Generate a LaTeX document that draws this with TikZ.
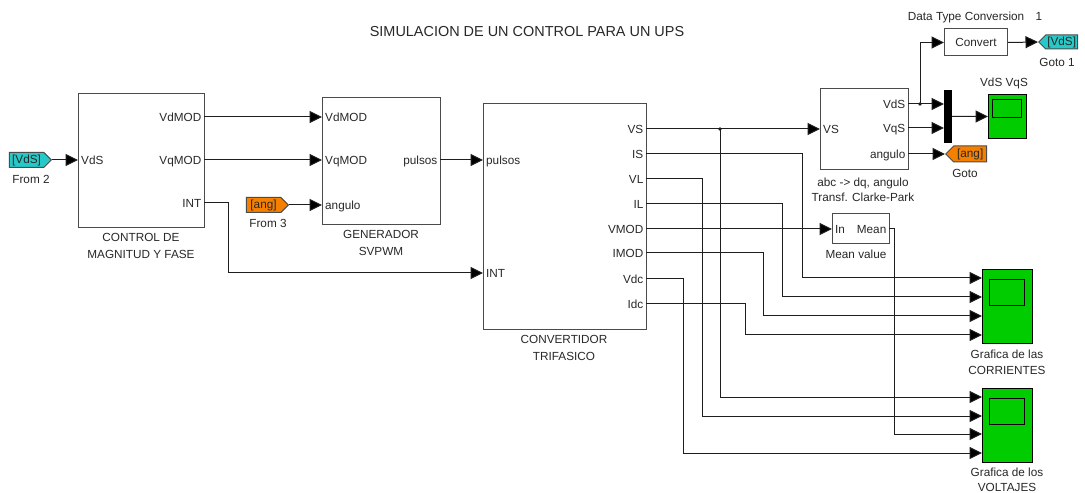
\documentclass[tikz,border=0pt]{standalone}
\usepackage{fontspec}
\setmainfont{Liberation Sans}
\usetikzlibrary{arrows.meta,shapes.symbols}
\definecolor{tagcyan}{RGB}{38,200,200}
\definecolor{tagorange}{RGB}{245,128,0}
\definecolor{scopegreen}{RGB}{0,204,0}
\definecolor{txt}{RGB}{40,40,40}
\definecolor{ln}{RGB}{30,30,30}
\begin{document}
\begin{tikzpicture}[x=1bp,y=-1bp,
  every node/.style={text=txt},
  blk/.style={draw=ln!80, fill=white, line width=1bp, inner sep=0pt, anchor=north west},
  scopebox/.style={draw=black, fill=scopegreen, line width=1bp, inner sep=0pt, anchor=north west},
  sig/.style={draw=ln, line width=1bp, -{Triangle[length=12.5bp,width=12bp,fill=black]}},
  portl/.style={font=\fontsize{11.8}{13}\selectfont, inner sep=0pt, text height=8.4bp, text depth=0pt, anchor=west},
  portr/.style={font=\fontsize{11.8}{13}\selectfont, inner sep=0pt, text height=8.4bp, text depth=0pt, anchor=east},
  lbl/.style={font=\fontsize{11.8}{17}\selectfont, inner sep=0pt, align=center, anchor=north},
  fromtag/.style={shape=signal, signal to=east, signal from=nowhere, signal pointer angle=90, draw=ln!80, line width=1bp, inner sep=0.5bp, font=\fontsize{11.8}{12}\selectfont, minimum height=15bp},
  gototag/.style={shape=signal, signal to=west, signal from=nowhere, signal pointer angle=90, draw=ln!80, line width=1bp, inner sep=0.5bp, font=\fontsize{11.8}{12}\selectfont, minimum height=15bp},
  jdot/.style={fill=ln}
]
\fill[white] (0,0) rectangle (1085,493);
\useasboundingbox (0,0) rectangle (1085,493);

% title
\node[font=\fontsize{14.5}{16}\selectfont, inner sep=0pt] (title) at (527,32) {SIMULACION DE UN CONTROL PARA UN UPS};

% blocks
\node[blk, minimum width=126bp, minimum height=134bp] (ctrl) at (78,93) {};
\node[blk, minimum width=118bp, minimum height=127bp] (gen) at (322,97) {};
\node[blk, minimum width=163bp, minimum height=226bp] (conv) at (483,103) {};
\node[blk, minimum width=88bp, minimum height=81bp] (clarke) at (820,88) {};
\node[blk, minimum width=63bp, minimum height=27bp, font=\fontsize{11.8}{13}\selectfont] (convert) at (944,28.5) {Convert};
\node[blk, fill=black, draw=black, minimum width=7bp, minimum height=52bp] (mux) at (944,90) {};
\node[blk, minimum width=57bp, minimum height=30bp] (mean) at (832,213) {};

% scopes
\node[scopebox, minimum width=38bp, minimum height=44bp] (scope1) at (988,94) {};
\node[scopebox, minimum width=29bp, minimum height=18bp] (scope1-screen) at (992,99) {};
\node[scopebox, minimum width=50bp, minimum height=74bp] (scC) at (982,269) {};
\node[scopebox, minimum width=35bp, minimum height=26bp] (scC-screen) at (989,279) {};
\node[scopebox, minimum width=50bp, minimum height=74bp] (scV) at (982,388) {};
\node[scopebox, minimum width=35bp, minimum height=26bp] (scV-screen) at (989,398) {};

% tags
\node[fromtag, fill=tagcyan, minimum width=42bp, anchor=east] (from2) at (52,160) {[VdS]};
\node[fromtag, fill=tagorange, minimum width=42bp, anchor=east] (from3) at (289,205) {[ang]};
\node[gototag, fill=tagcyan, minimum width=39bp, minimum height=14bp, anchor=west] (goto1) at (1038,42) {[VdS]};
\node[gototag, fill=tagorange, minimum width=41bp, minimum height=16bp, anchor=west] (gotoang) at (945,154) {[ang]};

% port coordinates
\coordinate (ctrl-vds) at (78,160);
\coordinate (ctrl-vdmod) at (204,117);
\coordinate (ctrl-vqmod) at (204,160);
\coordinate (ctrl-int) at (204,203);
\coordinate (gen-vdmod) at (322,117);
\coordinate (gen-vqmod) at (322,160);
\coordinate (gen-ang) at (322,205);
\coordinate (gen-pul) at (440,160);
\coordinate (conv-pul) at (483,160);
\coordinate (conv-int) at (483,273);
\coordinate (conv-vs) at (646,129);
\coordinate (conv-is) at (646,154);
\coordinate (conv-vl) at (646,179);
\coordinate (conv-il) at (646,204);
\coordinate (conv-vmod) at (646,229);
\coordinate (conv-imod) at (646,253);
\coordinate (conv-vdc) at (646,279);
\coordinate (conv-idc) at (646,304);
\coordinate (clarke-vs) at (820,129);
\coordinate (clarke-vds) at (908,104);
\coordinate (clarke-vqs) at (908,128);
\coordinate (clarke-ang) at (908,154);
\coordinate (mux-1) at (944,104);
\coordinate (mux-2) at (944,128);
\coordinate (mean-in) at (832,229);
\coordinate (mean-out) at (889,229);
\coordinate (scC-1) at (982,278);
\coordinate (scC-2) at (982,297);
\coordinate (scC-3) at (982,316);
\coordinate (scC-4) at (982,335);
\coordinate (scV-1) at (982,397);
\coordinate (scV-2) at (982,416);
\coordinate (scV-3) at (982,434);
\coordinate (scV-4) at (982,453);
\coordinate (jvs) at (720,129);
\coordinate (jvd) at (920,104);

% port labels
\foreach \n/\p/\t in {a/ctrl-vds/VdS, b/gen-vdmod/VdMOD, c/gen-vqmod/VqMOD, d/gen-ang/angulo, e/conv-pul/pulsos, f/conv-int/INT, g/clarke-vs/VS, h/mean-in/In}
  \node[portl, xshift=3bp] (pl-\n) at (\p) {\t};
\foreach \n/\p/\t in {a/ctrl-vdmod/VdMOD, b/ctrl-vqmod/VqMOD, c/ctrl-int/INT, d/gen-pul/pulsos, e/conv-vs/VS, f/conv-is/IS, g/conv-vl/VL, h/conv-il/IL, i/conv-vmod/VMOD, j/conv-imod/IMOD, k/conv-vdc/Vdc, l/conv-idc/Idc, m/clarke-vds/VdS, n/clarke-vqs/VqS, o/clarke-ang/angulo, p/mean-out/Mean}
  \node[portr, xshift=-2.5bp] (pr-\n) at (\p) {\t};

% block labels
\node[lbl] (l-ctrl) at (141,233) {CONTROL DE\\MAGNITUD Y FASE};
\node[lbl] (l-gen) at (381,230) {GENERADOR\\SVPWM};
\node[lbl] (l-conv) at (564,335) {CONVERTIDOR\\TRIFASICO};
\node[lbl, font=\fontsize{11.8}{14.5}\selectfont] (l-clarke) at (863,178) {abc -> dq, angulo\\Transf. Clarke-Park};
\node[lbl, anchor=center] (l-convert) at (975,17) {Data Type Conversion\hspace{8bp} 1};
\node[lbl, anchor=center] (l-from2) at (31,179) {From 2};
\node[lbl, anchor=center] (l-from3) at (268,223) {From 3};
\node[lbl, anchor=center] (l-goto1) at (1057,62) {Goto 1};
\node[lbl, anchor=center] (l-goto) at (965,173) {Goto};
\node[lbl, anchor=center] (l-scope1) at (1004,83) {VdS VqS};
\node[lbl, anchor=center] (l-mean) at (856,254) {Mean value};
\node[lbl, font=\fontsize{11.8}{16}\selectfont] (l-scC) at (1007,350) {Grafica de las\\CORRIENTES};
\node[lbl, font=\fontsize{11.8}{15}\selectfont] (l-scV) at (1007,468) {Grafica de los\\VOLTAJES};

% connectors
\draw[sig] (from2.east) -- (ctrl-vds);
\draw[sig] (ctrl-vdmod) -- (gen-vdmod);
\draw[sig] (ctrl-vqmod) -- (gen-vqmod);
\draw[sig] (from3.east) -- (gen-ang);
\draw[sig] (gen-pul) -- (conv-pul);
\draw[sig] (ctrl-int) -- ++(24,0) |- (conv-int);

\draw[sig] (conv-vs) -- (clarke-vs);
\draw[sig] (jvs) |- (scV-1);
\fill[jdot] (jvs) circle (1.8bp);
\draw[sig] (conv-is) -- ++(156,0) |- (scC-1);
\draw[sig] (conv-vl) -- ++(56,0) |- (scV-2);
\draw[sig] (conv-il) -- ++(136,0) |- (scC-2);
\draw[sig] (conv-vmod) -- (mean-in);
\draw[sig] (conv-imod) -- ++(117,0) |- (scC-3);
\draw[sig] (conv-vdc) -- ++(37,0) |- (scV-4);
\draw[sig] (conv-idc) -- ++(99,0) |- (scC-4);
\draw[sig] (mean-out) -- ++(5,0) |- (scV-3);

\draw[sig] (clarke-vds) -- (mux-1);
\draw[sig] (jvd) |- (convert.west);
\fill[jdot] (jvd) circle (1.8bp);
\draw[sig] (clarke-vqs) -- (mux-2);
\draw[sig] (mux.east) -- (scope1.west);
\draw[sig] (convert.east) -- (goto1.west);
\draw[sig] (clarke-ang) -- (gotoang.west);
\end{tikzpicture}
\end{document}
